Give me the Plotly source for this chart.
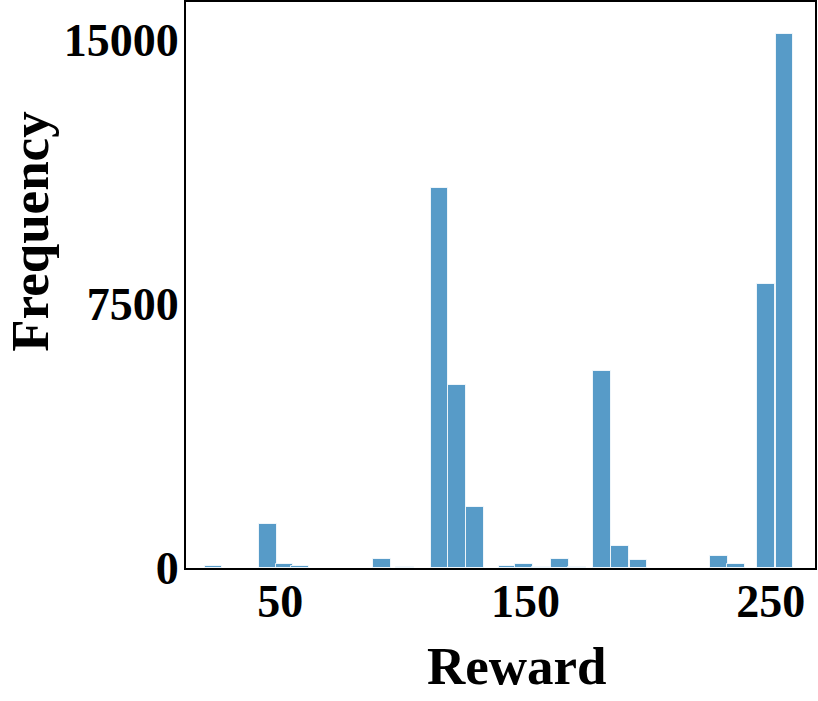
import plotly.graph_objects as go

# histogram bins (bin centre, count)
bin_centers = [22.8, 45.0, 51.7, 58.2, 91.4, 101.0, 114.9, 122.0, 129.3,
               142.6, 149.5, 156.2, 164.0, 170.9, 181.3, 188.6, 196.1,
               228.9, 235.8, 247.9, 255.6]
counts = [55, 1240, 120, 55, 265, 35, 10790, 5200, 1725,
          65, 115, 30, 245, 30, 5600, 615, 235,
          330, 105, 8070, 15180]

x_ticks = [50, 150, 250]
y_ticks = [0, 7500, 15000]

BIN_WIDTH = 7.2
BAR_COLOR = "rgb(87,155,200)"
FONT = "Liberation Serif"
TITLE_FONT = dict(family=FONT, size=53, color="black", weight="bold")

fig = go.Figure(go.Bar(
    x=bin_centers, y=counts,
    width=BIN_WIDTH,
    marker=dict(color=BAR_COLOR, line=dict(color="rgba(255,255,255,0.8)", width=1)),
))

axis_common = dict(
    showline=True, mirror=True, linecolor="black", linewidth=2,
    showgrid=False, zeroline=False, ticks="", automargin=False,
    tickfont=dict(family=FONT, size=46, color="black", weight="bold"),
)

fig.update_layout(
    width=818, height=701,
    margin=dict(l=186, r=3, t=2, b=133),
    plot_bgcolor="white", paper_bgcolor="white",
    showlegend=False,
    bargap=0,
    xaxis=dict(range=[11.6, 268], tickvals=x_ticks,
               ticktext=[str(v) for v in x_ticks], ticklabelstandoff=-8,
               **axis_common),
    yaxis=dict(range=[0, 16080], tickvals=y_ticks,
               ticktext=[str(v) for v in y_ticks], ticklabelstandoff=-4,
               **axis_common),
    annotations=[
        dict(text="Reward", xref="paper", yref="paper", x=0.526, y=-0.173,
             xanchor="center", yanchor="middle", showarrow=False, font=TITLE_FONT),
        dict(text="Frequency", xref="paper", yref="paper", x=-0.248, y=0.594,
             xanchor="center", yanchor="middle", textangle=-90, showarrow=False,
             font=TITLE_FONT),
    ],
)

# drop the default body margin so the figure fills the window exactly
fig.write_html("out.html", config={"displayModeBar": False},
               post_script="document.body.style.margin='0';")
